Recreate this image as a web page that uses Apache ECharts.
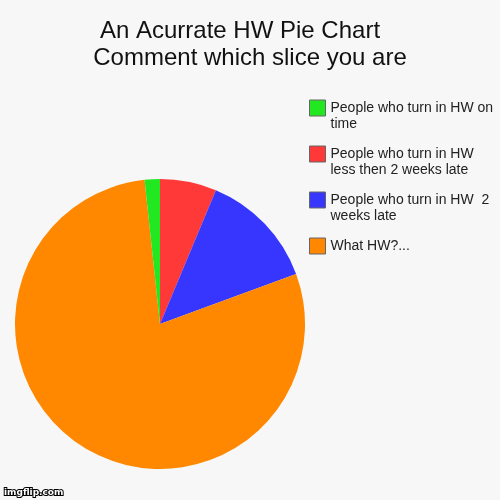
<!DOCTYPE html>
<html>
<head>
<meta charset="utf-8">
<script src="https://cdn.jsdelivr.net/npm/echarts@6/dist/echarts.min.js"></script>
<style>
  html, body { margin: 0; padding: 0; background: #f7f7f7; }
  #chart { width: 500px; height: 500px; }
</style>
</head>
<body>
<div id="chart"></div>
<script>
// slices, clockwise from 12 o'clock
var sliceNames = [
    'People who turn in HW less then 2 weeks late',
    'People who turn in HW  2 weeks late',
    'What HW?...',
    'People who turn in HW on time'
];
var sliceValues = [6.3, 13.1, 78.9, 1.7];
var sliceColors = ['#ff3838', '#3636ff', '#ff8800', '#22e822'];

// legend order, top to bottom, and how each label wraps
var legendOrder = [
    'People who turn in HW on time',
    'People who turn in HW less then 2 weeks late',
    'People who turn in HW  2 weeks late',
    'What HW?...'
];
var legendLines = {
    'People who turn in HW on time': 'People who turn in HW on\ntime',
    'People who turn in HW less then 2 weeks late': 'People who turn in HW\nless then 2 weeks late',
    'People who turn in HW  2 weeks late': 'People who turn in HW  2\nweeks late',
    'What HW?...': 'What HW?...\n '
};

var chart = echarts.init(document.getElementById('chart'));

var pieData = [];
for (var i = 0; i < sliceNames.length; i++) {
    pieData.push({
        name: sliceNames[i],
        value: sliceValues[i],
        itemStyle: { color: sliceColors[i] }
    });
}

var option = {
    backgroundColor: '#f7f7f7',
    animation: false,
    title: {
        text: 'An Acurrate HW Pie Chart   \nComment which slice you are',
        left: 250,
        textAlign: 'center',
        top: 18,
        padding: 0,
        textStyle: {
            fontFamily: 'Liberation Sans, Arial, sans-serif',
            fontSize: 24,
            fontWeight: 'normal',
            color: '#111',
            lineHeight: 27
        }
    },
    legend: {
        orient: 'vertical',
        left: 309,
        top: 84,
        padding: 0,
        itemGap: -2,
        itemWidth: 16,
        itemHeight: 16,
        icon: 'rect',
        data: legendOrder,
        itemStyle: { borderColor: '#666', borderWidth: 1 },
        formatter: function (name) {
            // blank first line keeps the first real line level with the box
            return ' \n' + legendLines[name];
        },
        textStyle: {
            fontFamily: 'Liberation Sans, Arial, sans-serif',
            fontSize: 14,
            color: '#222',
            lineHeight: 16
        },
        selectedMode: false
    },
    series: [{
        type: 'pie',
        center: [160, 324],
        radius: 145,
        startAngle: 90,
        clockwise: true,
        label: { show: false },
        labelLine: { show: false },
        itemStyle: { borderWidth: 0 },
        emphasis: { disabled: true },
        data: pieData
    }],
    graphic: [{
        type: 'text',
        left: 3,
        top: 487,
        style: {
            text: 'imgflip.com',
            fontFamily: 'DejaVu Sans, sans-serif',
            fontSize: 9,
            fontWeight: 'bold',
            fill: '#fff',
            stroke: '#000',
            lineWidth: 2
        }
    }]
};

chart.setOption(option);
</script>
</body>
</html>
